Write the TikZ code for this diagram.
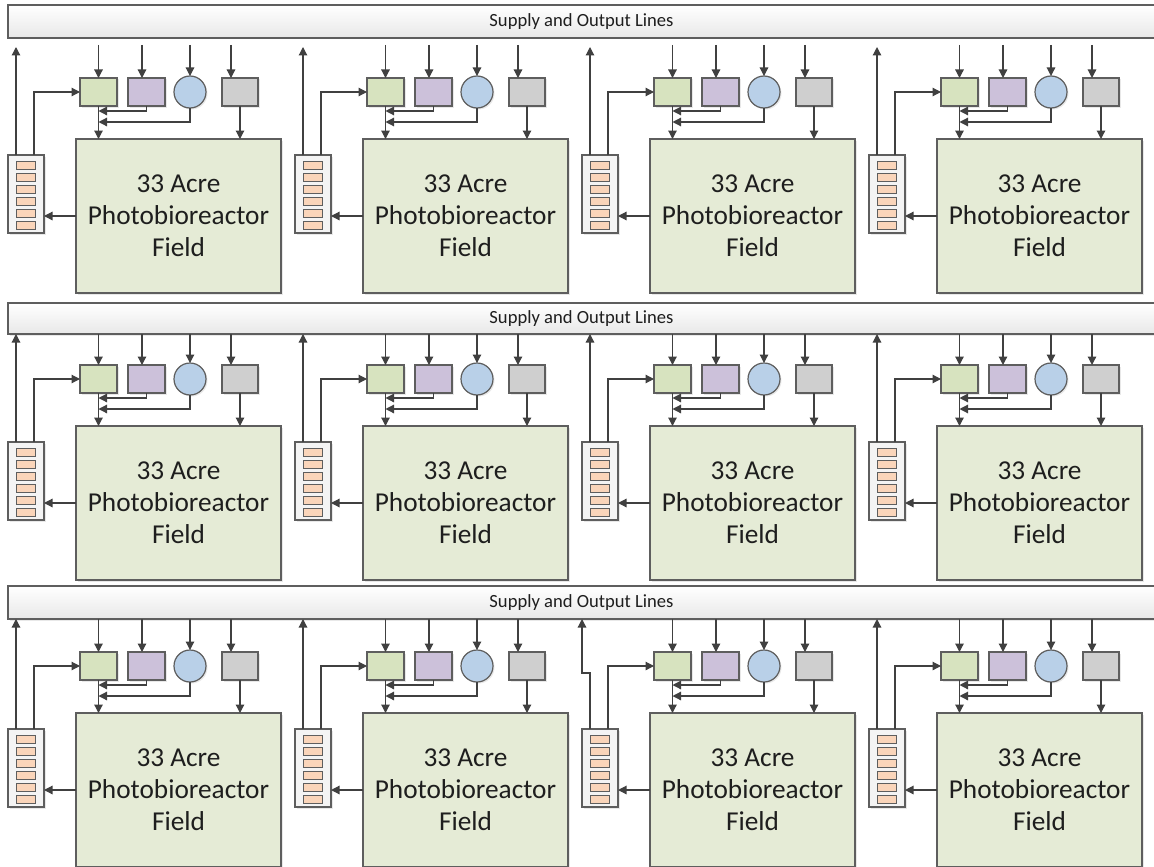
\documentclass[tikz,border=0pt]{standalone}
\usepackage{fontspec}
\setmainfont{Carlito}
\usetikzlibrary{arrows.meta,shadows}
\definecolor{ln}{HTML}{404040}
\definecolor{bd}{HTML}{5E5E5E}
\definecolor{fieldc}{HTML}{E5EBD6}
\definecolor{grn}{HTML}{D7E3BF}
\definecolor{pur}{HTML}{CCC1DA}
\definecolor{blu}{HTML}{B9D0E8}
\definecolor{gry}{HTML}{CFCFCF}
\definecolor{org}{HTML}{FAD5BA}
\definecolor{stor}{HTML}{F4F4F4}
\definecolor{txt}{HTML}{1E1E1E}
\tikzset{
  shd/.style={drop shadow={shadow xshift=1.5pt,shadow yshift=-1.5pt,opacity=0.18}},
  box/.style={draw=bd,line width=1.2pt,inner sep=0pt,outer sep=0pt,shd},
  fieldbox/.style={box,fill=fieldc,minimum width=205pt,minimum height=154pt,align=center,text=txt,font=\fontsize{27.3}{32}\selectfont},
  storbox/.style={box,fill=stor,minimum width=36pt,minimum height=78pt},
  cell/.style={draw=bd,line width=0.8pt,fill=org,minimum width=19pt,minimum height=8.6pt,inner sep=0pt},
  gbox/.style={box,fill=grn,minimum width=37pt,minimum height=28pt},
  pbox/.style={box,fill=pur,minimum width=37pt,minimum height=28pt},
  ybox/.style={box,fill=gry,minimum width=36pt,minimum height=28pt},
  cbox/.style={box,fill=blu,circle,minimum size=32pt},
  barbox/.style={draw=bd,line width=1.2pt,top color=white,bottom color=black!9,minimum width=1147pt,inner sep=0pt,text=txt,font=\fontsize{18.6}{21}\selectfont,shd},
  conn/.style={draw=ln,line width=1.2pt,-{Triangle[length=8.5pt,width=8.5pt]}}
}
\begin{document}
\begin{tikzpicture}[x=1pt,y=-1pt]
\useasboundingbox[fill=white] (0,0) rectangle (1154,867);
\node[barbox,minimum height=33pt] (B0) at (581.5,21.5) {Supply and Output Lines};
\node[barbox,minimum height=31pt] (B1) at (581.5,318.5) {Supply and Output Lines};
\node[barbox,minimum height=33pt] (B2) at (581.5,602.5) {Supply and Output Lines};
\foreach \r/\ya/\yb in {0/45/47,1/47/47,2/45/45}{
  \foreach \c in {0,1,2,3}{
    \begin{scope}[shift={(287*\c,287*\r)}]
      \node[fieldbox] (F\r\c) at (178.5,216) {33 Acre\\Photobioreactor\\Field};
      \node[storbox] (S\r\c) at (26,194) {};
      \foreach \k in {0,...,5}{
        \node[cell] (S\r\c-\k) at (25.5,165.3+12*\k) {};
      }
      \node[gbox] (G\r\c) at (98.5,92) {};
      \node[pbox] (P\r\c) at (146.5,92) {};
      \node[cbox] (C\r\c) at (190,92) {};
      \node[ybox] (Y\r\c) at (240,92) {};
      \coordinate (iG\r\c) at (98.5,\ya);
      \coordinate (iP\r\c) at (142,\ya);
      \coordinate (iC\r\c) at (190,\ya);
      \coordinate (iY\r\c) at (231,\ya);
      \coordinate (u\r\c) at (16,\yb);
      \draw[conn] (iG\r\c) -- (G\r\c.north);
      \draw[conn] (iP\r\c) -- (iP\r\c |- P\r\c.north);
      \draw[conn] (iC\r\c) -- (C\r\c.north);
      \draw[conn] (iY\r\c) -- (iY\r\c |- Y\r\c.north);
      \draw[conn] ([xshift=8pt]S\r\c.north) |- (G\r\c.west);
      \draw[conn] (G\r\c.south) -- (G\r\c.south |- F\r\c.north);
      \draw[conn] (P\r\c.south) |- ([yshift=-5pt]G\r\c.south);
      \draw[conn] (C\r\c.south) |- ([yshift=-16pt]G\r\c.south);
      \draw[conn] (Y\r\c.south) -- (Y\r\c.south |- F\r\c.north);
      \draw[conn] (F\r\c.west) -- (F\r\c.west -| S\r\c.east);
    \end{scope}
  }
}
% up arrows to the supply lines
\foreach \r/\c in {0/0,0/1,0/2,0/3,1/0,1/1,1/2,1/3,2/0,2/1,2/3}{
  \draw[conn] (S\r\c.north -| u\r\c) -- (u\r\c);
}
\coordinate (j22a) at (590,673);
\coordinate (j22b) at (582,673);
\draw[conn] (S22.north -| j22a) -- (j22a) -- (j22b) -- (u22 -| j22b);
\end{tikzpicture}
\end{document}
